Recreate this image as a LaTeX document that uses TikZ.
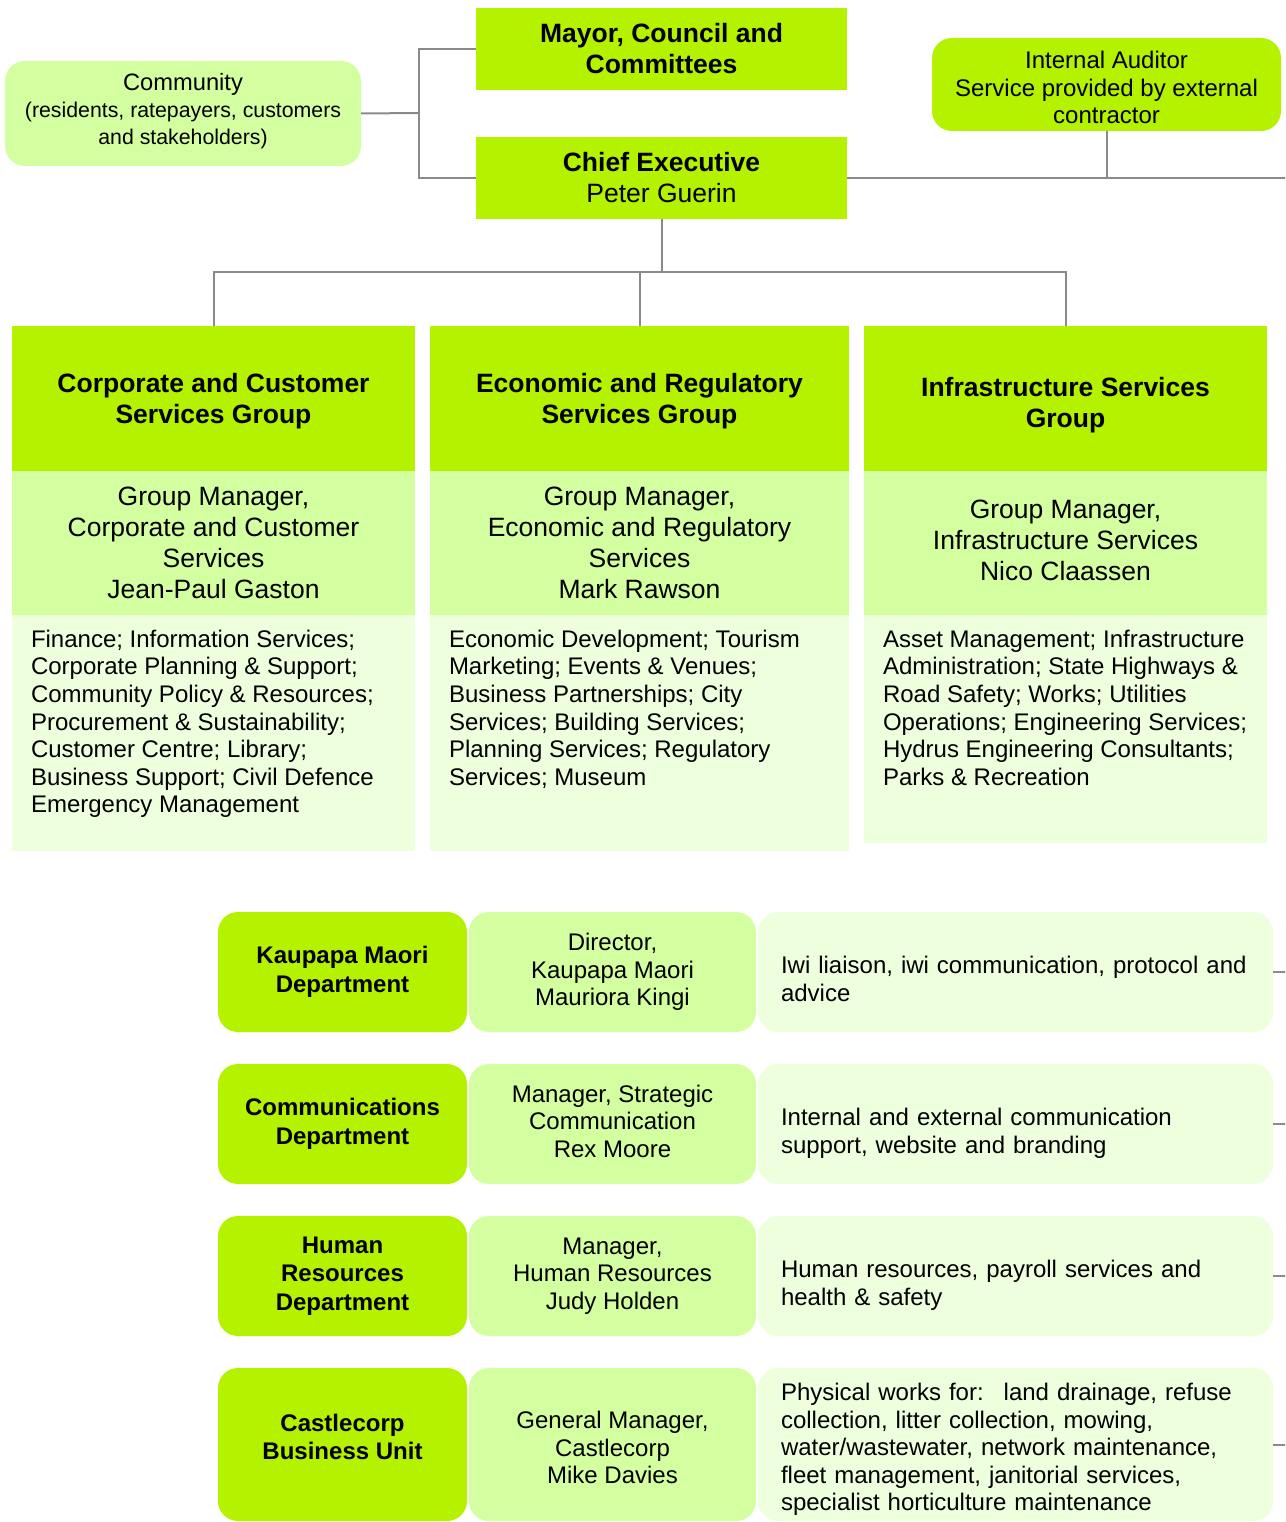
\documentclass[tikz,border=0pt]{standalone}
\usepackage{fontspec}
\setmainfont{Liberation Sans}
\usetikzlibrary{positioning}

\definecolor{limeA}{HTML}{B4F200}
\definecolor{limeB}{HTML}{D4FFA0}
\definecolor{limeC}{HTML}{EDFFDD}
\definecolor{linegray}{HTML}{8A8A8A}

% struts to nudge centred text down / up inside a box
\newcommand{\pushdown}[1]{\rule{0pt}{#1}}
\newcommand{\pushup}[1]{\rule[-#1]{0pt}{#1}}

\tikzset{
    big/.style={font=\fontsize{26.5}{31}\selectfont},
    small/.style={font=\fontsize{24}{27.6}\selectfont},
    plainbox/.style={inner sep=0pt, outer sep=0pt, align=center},
    topbox/.style={plainbox, fill=limeA, big, minimum width=371pt, minimum height=82pt},
    grouphead/.style={plainbox, fill=limeA, big, font=\fontsize{26.5}{31}\selectfont\bfseries, minimum height=145pt},
    groupmgr/.style={plainbox, fill=limeB, big, minimum height=144pt},
    groupdesc/.style={plainbox, fill=limeC},
    desctext/.style={inner sep=0pt, outer sep=0pt, align=left, small, anchor=north west},
    deptbox/.style={plainbox, fill=limeA, rounded corners=20pt, small, font=\fontsize{24}{28.5}\selectfont\bfseries, minimum width=249pt},
    mgrbox/.style={plainbox, fill=limeB, rounded corners=20pt, small, minimum width=287pt},
    dutybox/.style={plainbox, fill=limeC, rounded corners=20pt, small, align=left, inner xsep=23pt, text width=469pt, minimum width=515pt},
    link/.style={draw=linegray, line width=2pt}
}

\begin{document}
\begin{tikzpicture}[x=1pt, y=-1pt]
    \useasboundingbox (0,0) rectangle (1285,1522);
    \clip (0,0) rectangle (1285,1522);

    % top of the chart
    \node[topbox, font=\fontsize{26.5}{31}\selectfont\bfseries] (mayor) at (661.5,49) {Mayor, Council and\\Committees};
    \node[topbox] (chief) at (661.5,178) {\textbf{Chief Executive}\\Peter Guerin};
    \node[plainbox, fill=limeB, rounded corners=20pt, minimum width=356pt, minimum height=105pt,
          font=\fontsize{23.7}{27}\selectfont] (community) at (183,113.5)
        {Community\\\fontsize{21.3}{23.5}\selectfont (residents, ratepayers, customers\\
         \fontsize{21.3}{23.5}\selectfont and stakeholders)\pushup{10pt}};
    \node[plainbox, fill=limeA, rounded corners=20pt, small, minimum width=349pt, minimum height=93pt] (auditor) at (1106.5,84.5)
        {\pushdown{23.5pt}Internal Auditor\\Service provided by external\\contractor};

    \coordinate (split) at (419,113);
    \coordinate (edgeR) at (1290,178);
    \coordinate (bus) at (661.5,272);

    \draw[link] (community.east) -- (split);
    \draw[link] (mayor.west) -| (split) |- (chief.west);
    \draw[link] (chief.east) -- (edgeR);
    \draw[link] (auditor.south) -- (auditor.south |- edgeR);

    % groups
    \node[grouphead, minimum width=403pt, anchor=north] (corp) at (213.5,326) {\pushdown{23.5pt}Corporate and Customer\\Services Group};
    \node[grouphead, minimum width=419pt, anchor=north] (econ) at (639.5,326) {\pushdown{23.5pt}Economic and Regulatory\\Services Group};
    \node[grouphead, minimum width=403pt, anchor=north] (infra) at (1065.5,326) {\pushdown{33pt}Infrastructure Services\\Group};

    \node[groupmgr, minimum width=403pt, below=0pt of corp] (corpmgr) {Group Manager,\\Corporate and Customer\\Services\\Jean-Paul Gaston};
    \node[groupmgr, minimum width=419pt, below=0pt of econ] (econmgr) {Group Manager,\\Economic and Regulatory\\Services\\Mark Rawson};
    \node[groupmgr, minimum width=403pt, below=0pt of infra] (inframgr) {Group Manager,\\Infrastructure Services\\Nico Claassen\pushup{6pt}};

    \node[groupdesc, minimum width=403pt, minimum height=236pt, below=0pt of corpmgr] (corpdesc) {};
    \node[groupdesc, minimum width=419pt, minimum height=236pt, below=0pt of econmgr] (econdesc) {};
    \node[groupdesc, minimum width=403pt, minimum height=228pt, below=0pt of inframgr] (infradesc) {};

    \node[desctext] (corpjobs) at ([xshift=19pt, yshift=-15pt]corpdesc.north west)
        {Finance; Information Services;\\Corporate Planning \& Support;\\Community Policy \& Resources;\\Procurement \& Sustainability;\\Customer Centre; Library;\\Business Support; Civil Defence\\Emergency Management};
    \node[desctext] (econjobs) at ([xshift=19pt, yshift=-15pt]econdesc.north west)
        {Economic Development; Tourism\\Marketing; Events \& Venues;\\Business Partnerships; City\\Services; Building Services;\\Planning Services; Regulatory\\Services; Museum};
    \node[desctext] (infrajobs) at ([xshift=19pt, yshift=-15pt]infradesc.north west)
        {Asset Management; Infrastructure\\Administration; State Highways \&\\Road Safety; Works; Utilities\\Operations; Engineering Services;\\Hydrus Engineering Consultants;\\Parks \& Recreation};

    \draw[link] (chief.south) -- (bus);
    \draw[link] (corp.north) |- (bus) -| (infra.north);
    \draw[link] (econ.north) -- (econ.north |- bus);

    % departments
    \node[deptbox, minimum height=120pt, anchor=north west] (maori) at (218,912) {Kaupapa Maori\\Department\pushup{4pt}};
    \node[mgrbox, minimum height=120pt, right=2pt of maori] (maorimgr) {Director,\\Kaupapa Maori\\Mauriora Kingi};
    \node[dutybox, minimum height=120pt, right=2pt of maorimgr] (maoriduty) {\pushdown{31.5pt}Iwi liaison, iwi communication, protocol and\\advice};

    \node[deptbox, minimum height=120pt, anchor=north west] (comms) at (218,1064) {Communications\\Department\pushup{4pt}};
    \node[mgrbox, minimum height=120pt, right=2pt of comms] (commsmgr) {Manager, Strategic\\Communication\\Rex Moore\pushup{6pt}};
    \node[dutybox, minimum height=120pt, right=2pt of commsmgr] (commsduty) {\pushdown{35.5pt}Internal and external communication\\support, website and branding};

    \node[deptbox, minimum height=120pt, anchor=north west] (hr) at (218,1216) {Human\\Resources\\Department};
    \node[mgrbox, minimum height=120pt, right=2pt of hr] (hrmgr) {Manager,\\Human Resources\\Judy Holden};
    \node[dutybox, minimum height=120pt, right=2pt of hrmgr] (hrduty) {\pushdown{36.5pt}Human resources, payroll services and\\health \& safety};

    \node[deptbox, minimum height=153pt, anchor=north west] (castle) at (218,1368) {Castlecorp\\Business Unit\pushup{15pt}};
    \node[mgrbox, minimum height=153pt, right=2pt of castle] (castlemgr) {\pushdown{23.5pt}General Manager,\\Castlecorp\\Mike Davies};
    \node[dutybox, minimum height=153pt, right=2pt of castlemgr] (castleduty) {\pushdown{27.5pt}Physical works for:~ land drainage, refuse\\collection, litter collection, mowing,\\water/wastewater, network maintenance,\\fleet management, janitorial services,\\specialist horticulture maintenance};

    \draw[link] (maoriduty.east) -- (maoriduty.east -| edgeR);
    \draw[link] (commsduty.east) -- (commsduty.east -| edgeR);
    \draw[link] (hrduty.east) -- (hrduty.east -| edgeR);
    \draw[link] (castleduty.east) -- (castleduty.east -| edgeR);
\end{tikzpicture}
\end{document}
